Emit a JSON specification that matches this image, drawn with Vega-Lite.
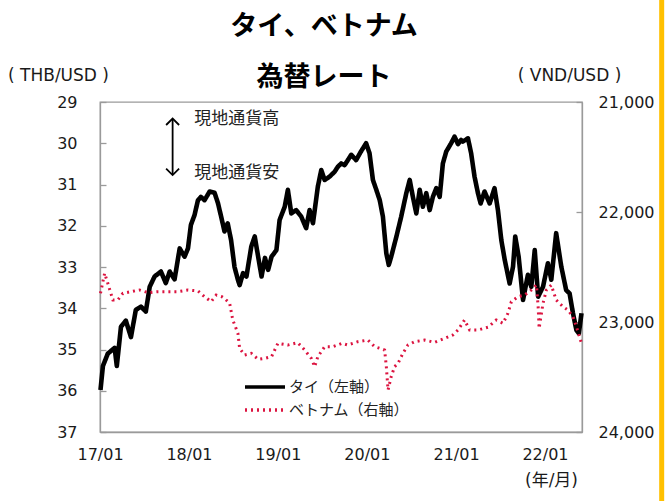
{
  "$schema": "https://vega.github.io/schema/vega-lite/v6.json",
  "width": 482,
  "height": 330,
  "autosize": {"type": "none"},
  "padding": {"left": 100, "top": 102, "right": 90, "bottom": 69},
  "background": "white",
  "title": {
    "text": ["タイ、ベトナム", "為替レート"],
    "font": "Noto Sans CJK JP",
    "fontSize": 27,
    "fontWeight": "bold",
    "color": "#000000",
    "lineHeight": 51,
    "anchor": "middle",
    "frame": "group",
    "dx": -17,
    "offset": -100
  },
  "datasets": {
    "thb": [
      {"date": "2017-01-03", "thb": 35.98}, {"date": "2017-01-13", "thb": 35.4}, {"date": "2017-02-02", "thb": 35.1},
      {"date": "2017-03-02", "thb": 34.96}, {"date": "2017-03-11", "thb": 35.4}, {"date": "2017-03-28", "thb": 34.45},
      {"date": "2017-04-17", "thb": 34.3}, {"date": "2017-05-08", "thb": 34.7}, {"date": "2017-05-28", "thb": 34.04},
      {"date": "2017-06-18", "thb": 33.96}, {"date": "2017-07-08", "thb": 34.08}, {"date": "2017-07-24", "thb": 33.48},
      {"date": "2017-08-13", "thb": 33.23}, {"date": "2017-09-08", "thb": 33.11}, {"date": "2017-09-28", "thb": 33.39},
      {"date": "2017-10-14", "thb": 33.11}, {"date": "2017-11-03", "thb": 33.3}, {"date": "2017-11-24", "thb": 32.55},
      {"date": "2017-12-14", "thb": 32.75}, {"date": "2017-12-28", "thb": 32.55}, {"date": "2018-01-09", "thb": 31.98},
      {"date": "2018-01-24", "thb": 31.74}, {"date": "2018-02-07", "thb": 31.38}, {"date": "2018-02-19", "thb": 31.3},
      {"date": "2018-03-06", "thb": 31.38}, {"date": "2018-03-27", "thb": 31.17}, {"date": "2018-04-16", "thb": 31.2},
      {"date": "2018-04-30", "thb": 31.45}, {"date": "2018-05-14", "thb": 31.8}, {"date": "2018-05-27", "thb": 32.14},
      {"date": "2018-06-09", "thb": 31.94}, {"date": "2018-06-23", "thb": 32.35}, {"date": "2018-07-07", "thb": 33.0},
      {"date": "2018-07-21", "thb": 33.31}, {"date": "2018-07-28", "thb": 33.44}, {"date": "2018-08-11", "thb": 33.15},
      {"date": "2018-08-25", "thb": 33.23}, {"date": "2018-09-14", "thb": 32.5}, {"date": "2018-09-28", "thb": 32.26},
      {"date": "2018-10-12", "thb": 32.75}, {"date": "2018-10-26", "thb": 33.23}, {"date": "2018-11-09", "thb": 32.78},
      {"date": "2018-11-22", "thb": 33.07}, {"date": "2018-12-06", "thb": 32.75}, {"date": "2018-12-26", "thb": 32.59},
      {"date": "2019-01-08", "thb": 31.86}, {"date": "2019-01-29", "thb": 31.54}, {"date": "2019-02-11", "thb": 31.13},
      {"date": "2019-02-25", "thb": 31.7}, {"date": "2019-03-17", "thb": 31.62}, {"date": "2019-04-07", "thb": 31.78},
      {"date": "2019-04-27", "thb": 32.06}, {"date": "2019-05-11", "thb": 31.62}, {"date": "2019-05-25", "thb": 31.94},
      {"date": "2019-06-14", "thb": 31.05}, {"date": "2019-06-28", "thb": 30.65}, {"date": "2019-07-12", "thb": 30.89},
      {"date": "2019-08-01", "thb": 30.81}, {"date": "2019-08-22", "thb": 30.69}, {"date": "2019-09-04", "thb": 30.57},
      {"date": "2019-09-18", "thb": 30.49}, {"date": "2019-10-02", "thb": 30.53}, {"date": "2019-10-29", "thb": 30.28},
      {"date": "2019-11-18", "thb": 30.41}, {"date": "2019-12-08", "thb": 30.2}, {"date": "2019-12-29", "thb": 30.0},
      {"date": "2020-01-12", "thb": 30.24}, {"date": "2020-01-26", "thb": 30.89}, {"date": "2020-02-09", "thb": 31.13},
      {"date": "2020-02-23", "thb": 31.38}, {"date": "2020-03-07", "thb": 31.78}, {"date": "2020-03-21", "thb": 32.67},
      {"date": "2020-03-31", "thb": 32.95}, {"date": "2020-04-10", "thb": 32.75}, {"date": "2020-05-01", "thb": 32.27},
      {"date": "2020-05-21", "thb": 31.78}, {"date": "2020-06-11", "thb": 31.21}, {"date": "2020-06-25", "thb": 30.89},
      {"date": "2020-07-08", "thb": 31.3}, {"date": "2020-07-22", "thb": 31.7}, {"date": "2020-08-05", "thb": 31.13},
      {"date": "2020-08-18", "thb": 31.54}, {"date": "2020-09-01", "thb": 31.21}, {"date": "2020-09-15", "thb": 31.62},
      {"date": "2020-09-28", "thb": 31.3}, {"date": "2020-10-12", "thb": 31.09}, {"date": "2020-10-26", "thb": 31.3},
      {"date": "2020-11-08", "thb": 30.49}, {"date": "2020-11-22", "thb": 30.2}, {"date": "2020-12-12", "thb": 30.0},
      {"date": "2020-12-26", "thb": 29.84}, {"date": "2021-01-09", "thb": 30.02}, {"date": "2021-01-22", "thb": 29.92},
      {"date": "2021-01-29", "thb": 29.96}, {"date": "2021-02-19", "thb": 29.88}, {"date": "2021-03-04", "thb": 30.24},
      {"date": "2021-03-18", "thb": 30.81}, {"date": "2021-04-01", "thb": 31.21}, {"date": "2021-04-12", "thb": 31.46},
      {"date": "2021-04-28", "thb": 31.17}, {"date": "2021-05-19", "thb": 31.46}, {"date": "2021-06-08", "thb": 31.09},
      {"date": "2021-06-22", "thb": 31.62}, {"date": "2021-07-06", "thb": 32.35}, {"date": "2021-07-20", "thb": 32.83},
      {"date": "2021-08-09", "thb": 33.4}, {"date": "2021-08-23", "thb": 32.99}, {"date": "2021-09-01", "thb": 32.26},
      {"date": "2021-09-15", "thb": 32.75}, {"date": "2021-10-03", "thb": 33.8}, {"date": "2021-10-23", "thb": 33.19},
      {"date": "2021-11-06", "thb": 33.48}, {"date": "2021-11-20", "thb": 32.59}, {"date": "2021-12-04", "thb": 33.72},
      {"date": "2021-12-24", "thb": 33.48}, {"date": "2022-01-13", "thb": 32.91}, {"date": "2022-01-27", "thb": 33.31},
      {"date": "2022-02-16", "thb": 32.18}, {"date": "2022-03-09", "thb": 32.99}, {"date": "2022-03-29", "thb": 33.56},
      {"date": "2022-04-12", "thb": 33.64}, {"date": "2022-04-26", "thb": 34.12}, {"date": "2022-05-10", "thb": 34.53},
      {"date": "2022-05-20", "thb": 34.61}, {"date": "2022-05-31", "thb": 34.12}
    ],
    "vnd": [
      {"date": "2017-01-03", "vnd": 22739}, {"date": "2017-01-20", "vnd": 22557}, {"date": "2017-02-02", "vnd": 22648},
      {"date": "2017-02-23", "vnd": 22800}, {"date": "2017-03-15", "vnd": 22800}, {"date": "2017-04-05", "vnd": 22739},
      {"date": "2017-05-09", "vnd": 22724}, {"date": "2017-06-12", "vnd": 22709}, {"date": "2017-07-17", "vnd": 22733},
      {"date": "2017-08-27", "vnd": 22724}, {"date": "2017-10-07", "vnd": 22724}, {"date": "2017-11-17", "vnd": 22724},
      {"date": "2017-12-28", "vnd": 22709}, {"date": "2018-02-07", "vnd": 22718}, {"date": "2018-03-06", "vnd": 22770},
      {"date": "2018-04-02", "vnd": 22815}, {"date": "2018-04-23", "vnd": 22755}, {"date": "2018-05-16", "vnd": 22770},
      {"date": "2018-05-27", "vnd": 22785}, {"date": "2018-06-17", "vnd": 22830}, {"date": "2018-06-30", "vnd": 22982},
      {"date": "2018-07-21", "vnd": 23103}, {"date": "2018-07-28", "vnd": 23239}, {"date": "2018-08-17", "vnd": 23300},
      {"date": "2018-09-14", "vnd": 23285}, {"date": "2018-10-12", "vnd": 23339}, {"date": "2018-11-09", "vnd": 23330},
      {"date": "2018-12-06", "vnd": 23315}, {"date": "2019-01-01", "vnd": 23194}, {"date": "2019-02-11", "vnd": 23209},
      {"date": "2019-03-24", "vnd": 23188}, {"date": "2019-04-21", "vnd": 23255}, {"date": "2019-05-18", "vnd": 23330},
      {"date": "2019-06-01", "vnd": 23406}, {"date": "2019-06-14", "vnd": 23315}, {"date": "2019-07-12", "vnd": 23224},
      {"date": "2019-08-15", "vnd": 23224}, {"date": "2019-09-21", "vnd": 23194}, {"date": "2019-10-15", "vnd": 23209},
      {"date": "2019-11-25", "vnd": 23179}, {"date": "2020-01-05", "vnd": 23164}, {"date": "2020-02-02", "vnd": 23224},
      {"date": "2020-02-23", "vnd": 23239}, {"date": "2020-03-14", "vnd": 23255}, {"date": "2020-03-21", "vnd": 23406},
      {"date": "2020-03-28", "vnd": 23618}, {"date": "2020-04-10", "vnd": 23497}, {"date": "2020-04-24", "vnd": 23406},
      {"date": "2020-05-08", "vnd": 23376}, {"date": "2020-05-28", "vnd": 23285}, {"date": "2020-06-18", "vnd": 23209},
      {"date": "2020-07-15", "vnd": 23179}, {"date": "2020-08-25", "vnd": 23164}, {"date": "2020-10-05", "vnd": 23185},
      {"date": "2020-11-15", "vnd": 23149}, {"date": "2020-12-19", "vnd": 23118}, {"date": "2021-01-09", "vnd": 23073},
      {"date": "2021-02-05", "vnd": 22982}, {"date": "2021-02-26", "vnd": 23073}, {"date": "2021-04-01", "vnd": 23073},
      {"date": "2021-05-12", "vnd": 23048}, {"date": "2021-06-15", "vnd": 22982}, {"date": "2021-07-13", "vnd": 23012},
      {"date": "2021-08-02", "vnd": 22921}, {"date": "2021-08-16", "vnd": 22815}, {"date": "2021-09-12", "vnd": 22770},
      {"date": "2021-10-10", "vnd": 22755}, {"date": "2021-11-06", "vnd": 22709}, {"date": "2021-11-27", "vnd": 22664},
      {"date": "2021-12-04", "vnd": 22861}, {"date": "2021-12-08", "vnd": 23058}, {"date": "2021-12-24", "vnd": 22830},
      {"date": "2022-01-07", "vnd": 22709}, {"date": "2022-01-27", "vnd": 22664}, {"date": "2022-02-16", "vnd": 22800},
      {"date": "2022-03-16", "vnd": 22861}, {"date": "2022-04-05", "vnd": 22891}, {"date": "2022-04-26", "vnd": 22952},
      {"date": "2022-05-10", "vnd": 23042}, {"date": "2022-05-31", "vnd": 23194}
    ]
  },
  "config": {
    "view": {"stroke": "#9a9a9a", "strokeWidth": 1.3},
    "axis": {
      "grid": false,
      "labelFont": "DejaVu Sans",
      "labelFontSize": 16,
      "labelColor": "#1a1a1a",
      "domainColor": "#9a9a9a",
      "domainWidth": 1.3,
      "tickColor": "#9a9a9a",
      "tickWidth": 1.3,
      "titleFont": "DejaVu Sans, Noto Sans CJK JP",
      "titleFontSize": 17,
      "titleFontWeight": "normal",
      "titleColor": "#1a1a1a"
    }
  },
  "layer": [
    {
      "data": {"name": "thb"},
      "mark": {"type": "line", "strokeWidth": 4.6, "strokeJoin": "round"},
      "encoding": {
        "x": {
          "field": "date",
          "type": "temporal",
          "scale": {"domain": [{"year": 2017, "month": 1, "date": 1}, {"year": 2022, "month": 6, "date": 2}]},
          "axis": {
            "values": [
              {"year": 2017, "month": 1, "date": 1}, {"year": 2018, "month": 1, "date": 1},
              {"year": 2019, "month": 1, "date": 1}, {"year": 2020, "month": 1, "date": 1},
              {"year": 2021, "month": 1, "date": 1}, {"year": 2022, "month": 1, "date": 1}
            ],
            "format": "%y/%m",
            "ticks": false,
            "labelPadding": 14,
            "labelFlush": false,
            "title": "(年/月)",
            "titleAnchor": null,
            "titleX": 451,
            "titleY": 48,
            "titleAlign": "center",
            "titleBaseline": "middle"
          }
        },
        "y": {
          "field": "thb",
          "type": "quantitative",
          "scale": {"domain": [29, 37], "reverse": true, "nice": false, "zero": false},
          "axis": {
            "orient": "left",
            "values": [29, 30, 31, 32, 33, 34, 35, 36, 37],
            "format": "d",
            "tickSize": -6,
            "labelPadding": 29,
            "title": "( THB/USD )",
            "titleAngle": 0,
            "titleAnchor": null,
            "titleX": -42,
            "titleY": -27,
            "titleAlign": "center",
            "titleBaseline": "middle"
          }
        },
        "color": {
          "datum": "タイ（左軸）",
          "type": "nominal",
          "scale": {"domain": ["タイ（左軸）", "ベトナム（右軸）"], "range": ["#000000", "#dc1440"]},
          "legend": {
            "title": null,
            "orient": "none",
            "legendX": 153,
            "legendY": 273,
            "symbolType": "M-2,0L2,0",
            "symbolSize": 400,
            "symbolStrokeWidth": 3.5,
            "labelFont": "Noto Sans CJK JP",
            "labelFontSize": 15,
            "labelColor": "#222222",
            "labelOffset": 12,
            "rowPadding": 3,
            "padding": 0
          }
        },
        "strokeDash": {
          "datum": "タイ（左軸）",
          "type": "nominal",
          "scale": {"domain": ["タイ（左軸）", "ベトナム（右軸）"], "range": [[1, 0], [2, 4]]},
          "legend": {
            "title": null,
            "orient": "none",
            "legendX": 153,
            "legendY": 273,
            "symbolType": "M-2,0L2,0",
            "symbolSize": 400,
            "symbolStrokeWidth": 3.5,
            "labelFont": "Noto Sans CJK JP",
            "labelFontSize": 15,
            "labelColor": "#222222",
            "labelOffset": 12,
            "rowPadding": 3,
            "padding": 0
          }
        }
      }
    },
    {
      "data": {"values": [{}]},
      "mark": {"type": "rule", "color": "#000000", "strokeWidth": 1.8},
      "encoding": {
        "x": {"datum": {"year": 2017, "month": 10, "date": 26}, "type": "temporal"},
        "y": {"datum": 29.42, "type": "quantitative", "scale": {"domain": [29, 37], "reverse": true, "nice": false, "zero": false}, "axis": null},
        "y2": {"datum": 30.75}
      }
    },
    {
      "data": {"values": [{}]},
      "mark": {"type": "point", "shape": "M-1,1L0,0L1,1", "size": 169, "filled": false, "color": "#000000", "strokeWidth": 1.8, "opacity": 1},
      "encoding": {
        "x": {"datum": {"year": 2017, "month": 10, "date": 26}, "type": "temporal"},
        "y": {"datum": 29.4, "type": "quantitative", "scale": {"domain": [29, 37], "reverse": true, "nice": false, "zero": false}, "axis": null}
      }
    },
    {
      "data": {"values": [{}]},
      "mark": {"type": "point", "shape": "M-1,-1L0,0L1,-1", "size": 169, "filled": false, "color": "#000000", "strokeWidth": 1.8, "opacity": 1},
      "encoding": {
        "x": {"datum": {"year": 2017, "month": 10, "date": 26}, "type": "temporal"},
        "y": {"datum": 30.77, "type": "quantitative", "scale": {"domain": [29, 37], "reverse": true, "nice": false, "zero": false}, "axis": null}
      }
    },
    {
      "data": {"values": [{}]},
      "mark": {"type": "text", "align": "left", "baseline": "middle", "font": "Noto Sans CJK JP", "fontSize": 17, "color": "#222222"},
      "encoding": {
        "x": {"datum": {"year": 2018, "month": 1, "date": 23}, "type": "temporal"},
        "y": {"datum": 29.42, "type": "quantitative", "scale": {"domain": [29, 37], "reverse": true, "nice": false, "zero": false}, "axis": null},
        "text": {"value": "現地通貨高"}
      }
    },
    {
      "data": {"values": [{}]},
      "mark": {"type": "text", "align": "left", "baseline": "middle", "font": "Noto Sans CJK JP", "fontSize": 17, "color": "#222222"},
      "encoding": {
        "x": {"datum": {"year": 2018, "month": 1, "date": 23}, "type": "temporal"},
        "y": {"datum": 30.73, "type": "quantitative", "scale": {"domain": [29, 37], "reverse": true, "nice": false, "zero": false}, "axis": null},
        "text": {"value": "現地通貨安"}
      }
    },
    {
      "data": {"values": [{}]},
      "mark": {"type": "rule", "color": "#ffc000", "strokeWidth": 5, "clip": false},
      "encoding": {
        "x": {"datum": {"year": 2023, "month": 4, "date": 25}, "type": "temporal"},
        "y": {"datum": 26.4, "type": "quantitative", "scale": {"domain": [29, 37], "reverse": true, "nice": false, "zero": false}, "axis": null},
        "y2": {"datum": 38.8}
      }
    },
    {
      "data": {"name": "vnd"},
      "mark": {"type": "line", "strokeWidth": 3},
      "encoding": {
        "x": {"field": "date", "type": "temporal"},
        "y": {
          "field": "vnd",
          "type": "quantitative",
          "scale": {"domain": [21000, 24000], "reverse": true, "nice": false, "zero": false},
          "axis": {
            "orient": "right",
            "values": [21000, 22000, 23000, 24000],
            "format": ",.0f",
            "tickSize": -6,
            "labelPadding": 22,
            "title": "( VND/USD )",
            "titleAngle": 0,
            "titleAnchor": null,
            "titleX": -13,
            "titleY": -27,
            "titleAlign": "center",
            "titleBaseline": "middle"
          }
        },
        "color": {"datum": "ベトナム（右軸）", "type": "nominal"},
        "strokeDash": {"datum": "ベトナム（右軸）", "type": "nominal"}
      }
    }
  ],
  "resolve": {"scale": {"y": "independent"}}
}
